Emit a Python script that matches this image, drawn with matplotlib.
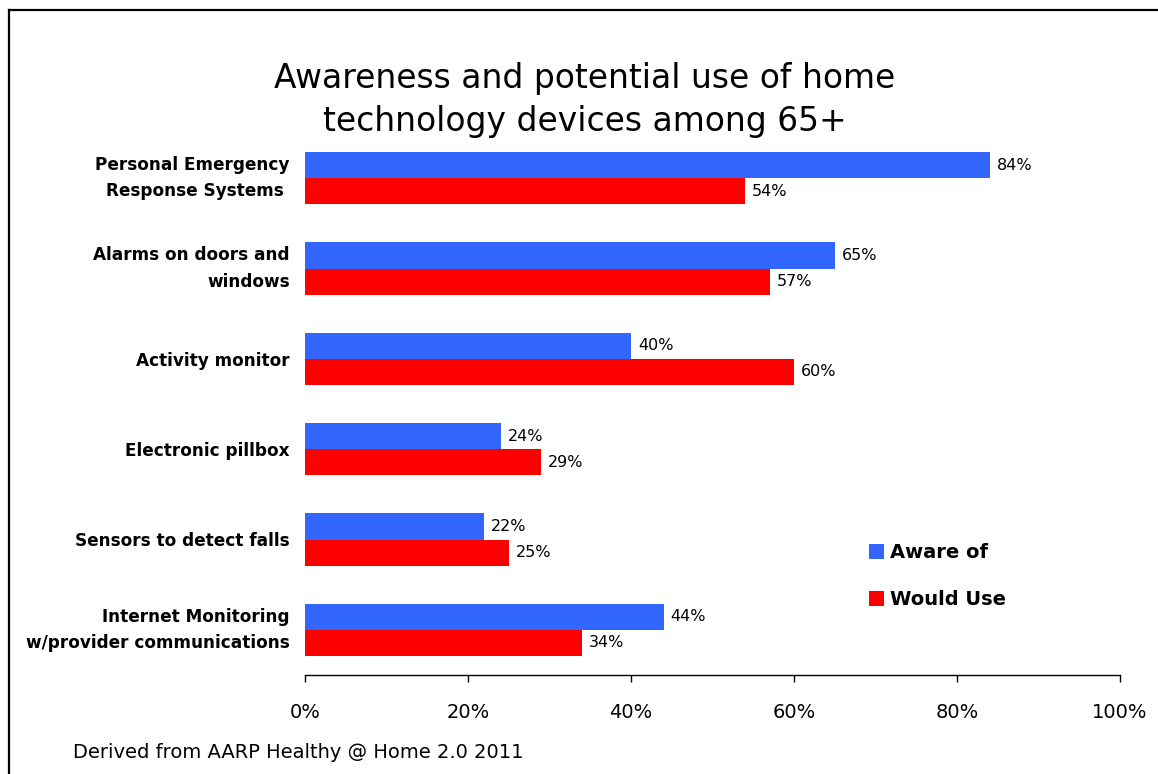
import matplotlib.pyplot as plt
import numpy as np
from matplotlib.lines import Line2D

categories = ["Personal Emergency\nResponse Systems ", "Alarms on doors and\nwindows",
              "Activity monitor", "Electronic pillbox", "Sensors to detect falls",
              "Internet Monitoring\nw/provider communications"]
aware = [84, 65, 40, 24, 22, 44]
would_use = [54, 57, 60, 29, 25, 34]
xticks = [0, 20, 40, 60, 80, 100]

blue = "#3366FF"
red = "#FF0000"

fig = plt.figure(figsize=(11.58, 7.74), dpi=100)
ax = fig.add_axes([305/1158, 1-675/774, 815/1158, 542/774])

y = np.arange(len(categories))
h = 0.289
ax.barh(y - h/2, aware, height=h, color=blue, label="Aware of")
ax.barh(y + h/2, would_use, height=h, color=red, label="Would Use")

for yi, a, w in zip(y, aware, would_use):
    ax.annotate(f"{a}%", (a, yi - h/2), xytext=(5, 0), textcoords="offset points",
                va="center", ha="left", fontsize=11.5)
    ax.annotate(f"{w}%", (w, yi + h/2), xytext=(5, 0), textcoords="offset points",
                va="center", ha="left", fontsize=11.5)

ax.set_ylim(len(categories) - 0.5, -0.5)
ax.set_xlim(0, 100)
ax.set_yticks(y)
ax.set_yticklabels(categories, fontsize=12.2, fontweight="bold", linespacing=1.6)
for lab in ax.get_yticklabels():
    if "\n" in lab.get_text():
        lab.set_verticalalignment("center")
ax.tick_params(axis="y", length=0, pad=11)
ax.set_xticks(xticks)
ax.set_xticklabels([f"{t}%" for t in xticks], fontsize=14)
ax.tick_params(axis="x", direction="out", length=5, pad=15, width=1)
for s in ["top", "right", "left"]:
    ax.spines[s].set_visible(False)
ax.spines["bottom"].set_linewidth(1)

ax.legend(loc="upper left", bbox_to_anchor=(0.67, 0.276), frameon=False,
          prop={"weight": "bold", "size": 14}, handlelength=0.8, handleheight=0.8,
          handletextpad=0.3, labelspacing=1.45)

fig.text(585/1158, 1-100/774, "Awareness and potential use of home\ntechnology devices among 65+",
         ha="center", va="center", fontsize=23.7, linespacing=1.35)
fig.text(73/1158, 1-752/774, "Derived from AARP Healthy @ Home 2.0 2011",
         ha="left", va="center", fontsize=14)

fig.add_artist(Line2D([9/1158, 9/1158], [0, 1-10/774], transform=fig.transFigure, color="black", lw=1.6))
fig.add_artist(Line2D([9/1158, 1], [1-10/774, 1-10/774], transform=fig.transFigure, color="black", lw=1.6))

fig.savefig("out.png", dpi=100)
